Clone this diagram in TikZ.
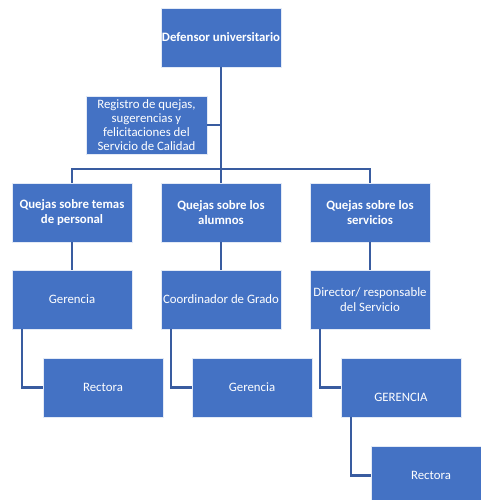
\documentclass[tikz,border=0pt]{standalone}
\usepackage{fontspec}
\setmainfont{Carlito}
\usetikzlibrary{positioning, calc}

\definecolor{boxblue}{RGB}{68,114,196}
\definecolor{lineblue}{RGB}{57,92,160}

\begin{document}
\begin{tikzpicture}[x=0.75pt,y=-0.75pt,semithick]
		\tikzstyle{every node}=[font=\fontsize{9.6}{10.7}\selectfont]
		\tikzstyle{unit}=[rectangle,fill=boxblue,draw=white!85!boxblue,line width=0.6pt,text=white,align=center,minimum width=90pt,minimum height=44.25pt,inner sep=0.5pt]
		\tikzstyle{link}=[draw=lineblue,line width=1.6pt]
		
		\clip (0,0) rectangle (481,500);
		\useasboundingbox (0,0) rectangle (481,500);
		
		\node[unit] (def)  at (221,37.5)  {\textbf{Defensor universitario}};
		\node[unit,minimum width=90.75pt,minimum height=43.5pt] (reg) at (146.5,125) {Registro de quejas,\\sugerencias y\\felicitaciones del\\Servicio de Calidad};
		
		\node[unit] (qper) at (72,212.5)  {\textbf{Quejas sobre temas}\\\textbf{de personal}};
		\node[unit] (qalu) at (221,212.5) {\textbf{Quejas sobre los}\\\textbf{alumnos}};
		\node[unit] (qser) at (370,212.5) {\textbf{Quejas sobre los}\\\textbf{servicios}};
		
		\node[unit] (ger)  at (72,299.5)  {Gerencia};
		\node[unit] (coor) at (221,299.5) {Coordinador de Grado};
		\node[unit] (dir)  at (370,299.5) {Director/ responsable\\del Servicio};
		
		\node[unit] (rec)  at (103,387.5) {Rectora};
		\node[unit] (gerb) at (252,387.5) {Gerencia};
		\node[unit] (GER)  at (401,387.5) {\mbox{}\\[10.5pt]GERENCIA};
		
		\node[unit] (recb) at (431,475.5) {Rectora};
		
		\coordinate (hub) at (221,169);
		
		% top of the chart
		\draw[link] (def.south) -- (hub);
		\draw[link] (reg.east) -- (reg.east -| def.south);
		\draw[link] (qper.north) |- (hub) -| (qser.north);
		\draw[link] (hub) -- (qalu.north);
		
		% columns
		\draw[link] (qper) -- (ger);
		\draw[link] (qalu) -- (coor);
		\draw[link] (qser) -- (dir);
		\draw[link] ([xshift=7.5pt]ger.south west) |- (rec.west);
		\draw[link] ([xshift=7.5pt]coor.south west) |- (gerb.west);
		\draw[link] ([xshift=7.5pt]dir.south west) |- (GER.west);
		\draw[link] ([xshift=7.5pt]GER.south west) |- (recb.west);
	\end{tikzpicture}
\end{document}
